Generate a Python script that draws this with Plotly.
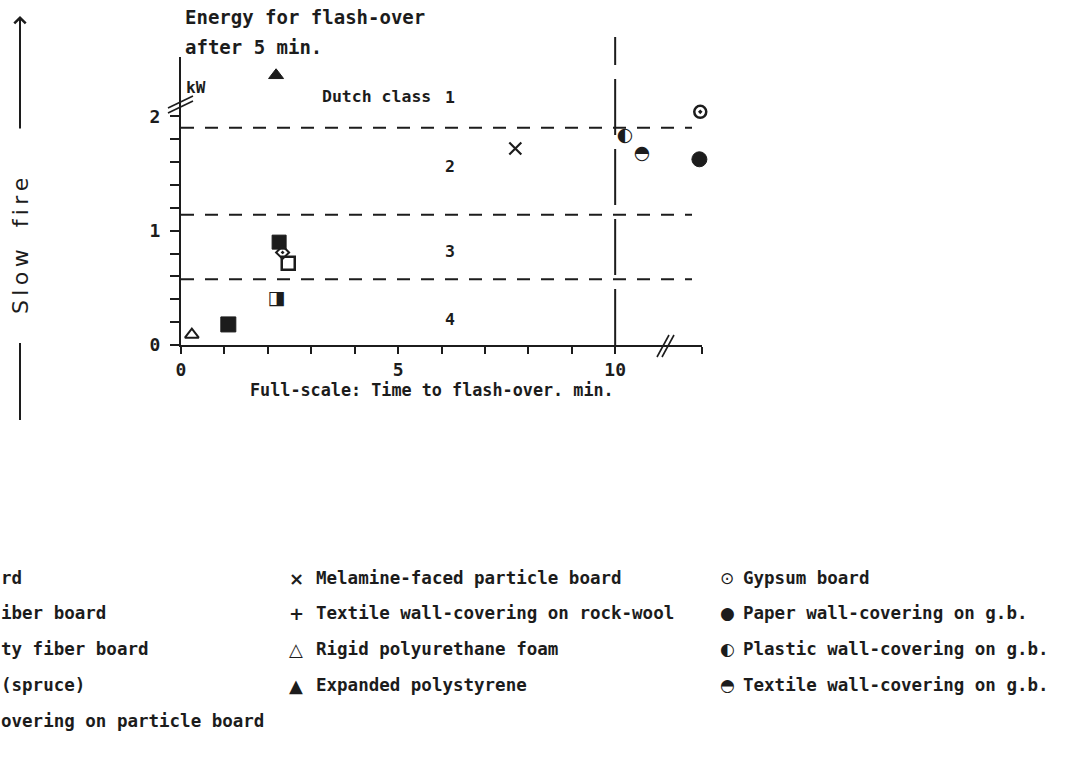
import plotly.graph_objects as go

# ---------------- data ----------------
X_RANGE = [0, 12]
Y_RANGE = [0, 2.52]
x_tick_vals = [0, 5, 10]
x_tick_labels = ["0", "5", "10"]
x_minor_ticks = [1, 2, 3, 4, 6, 7, 8, 9, 12]
y_tick_vals = [0, 1, 2]
y_tick_labels = ["0", "1", "2"]
y_minor_ticks = [0.2, 0.4, 0.6, 0.8, 1.2, 1.4, 1.6, 1.8]

class_limits = [1.90, 1.14, 0.575]
class_names = ["1", "2", "3", "4"]
class_name_y = [2.17, 1.56, 0.82, 0.22]
class_name_x = 6.2
time_divider = 10

# first legend column (partly cut off at the page edge)
col1_names = ["rd", "iber board", "ty fiber board", "(spruce)",
              "overing on particle board"]
col1_x = [1.09, 2.20, 2.26, 2.34, 2.47]
col1_y = [0.18, 0.40, 0.90, 0.81, 0.715]

col2_names = ["Melamine-faced particle board", "Textile wall-covering on rock-wool",
              "Rigid polyurethane foam", "Expanded polystyrene"]
melamine_x, melamine_y = [7.70], [1.72]
rockwool_x, rockwool_y = [], []
pu_x, pu_y = [0.25], [0.09]
eps_x, eps_y = [2.19], [2.36]

col3_names = ["Gypsum board", "Paper wall-covering on g.b.",
              "Plastic wall-covering on g.b.", "Textile wall-covering on g.b."]
gypsum_x, gypsum_y = [11.96], [2.04]
paper_x, paper_y = [11.94], [1.625]
plastic_x, plastic_y = [10.23], [1.83]
textile_x, textile_y = [10.62], [1.67]

# ---------------- layout helpers ----------------
W, H = 1066, 765
L, R, T, B = 181, 702, 57, 345   # plot area in pixels
def px(x):
    return (x - L) / (R - L)
def py(y):
    return (B - y) / (B - T)

INK = "#1c1c1c"
MONO = "DejaVu Sans Mono"

fig = go.Figure()

def mk(x, y, symbol, size, lw=2, name=""):
    fig.add_trace(go.Scatter(
        x=x, y=y, mode="markers", name=name, cliponaxis=False, showlegend=False,
        marker=dict(symbol=symbol, size=size, color=INK,
                    line=dict(color=INK, width=lw))))

def glyph(x, y, ch, size, name=""):
    fig.add_trace(go.Scatter(
        x=x, y=y, mode="text", text=[ch] * len(x), name=name, cliponaxis=False,
        showlegend=False, textposition="middle center",
        textfont=dict(family="DejaVu Sans", size=size, color=INK)))

# column 1 materials
mk([col1_x[0]], [col1_y[0]], "square", 15, 1, col1_names[0])
glyph([col1_x[1]], [col1_y[1]], "◨", 19, col1_names[1])
mk([col1_x[2]], [col1_y[2]], "square", 14, 1, col1_names[2])
mk([col1_x[3]], [col1_y[3]], "diamond-open-dot", 10, 2, col1_names[3])
mk([col1_x[4]], [col1_y[4]], "square-open", 13, 2.5, col1_names[4])
# column 2
mk(melamine_x, melamine_y, "x-thin-open", 12, 2.2, col2_names[0])
mk(rockwool_x, rockwool_y, "cross-thin-open", 12, 2.2, col2_names[1])
mk(pu_x, pu_y, "triangle-up-open", 12, 2, col2_names[2])
mk(eps_x, eps_y, "triangle-up", 13, 1, col2_names[3])
# column 3
mk(gypsum_x, gypsum_y, "circle-open-dot", 12, 2.5, col3_names[0])
mk(paper_x, paper_y, "circle", 15, 1, col3_names[1])
glyph(plastic_x, plastic_y, "◐", 19, col3_names[2])
glyph(textile_x, textile_y, "◓", 19, col3_names[3])

shapes = []
# class limits (dashed)
for v in class_limits:
    shapes.append(dict(type="line", xref="paper", yref="y", x0=0, x1=px(692), y0=v, y1=v,
                       line=dict(color=INK, width=2, dash="13px,11px")))
# vertical divider at 10 min
xd = (time_divider - X_RANGE[0]) / (X_RANGE[1] - X_RANGE[0])
shapes.append(dict(type="line", xref="paper", yref="paper", x0=xd, x1=xd, y0=0, y1=py(37),
                   line=dict(color=INK, width=2, dash="56px,14px")))
# axis breaks
for dx in (0, 5):
    shapes.append(dict(type="line", xref="paper", yref="paper",
                       x0=px(657 + dx), y0=py(357), x1=px(669 + dx), y1=py(335),
                       line=dict(color=INK, width=1.6)))
for dy in (0, 5):
    shapes.append(dict(type="line", xref="paper", yref="paper",
                       x0=px(168), y0=py(108 + dy), x1=px(193), y1=py(96 + dy),
                       line=dict(color=INK, width=1.6)))
# left "slow fire" arrow lines
shapes.append(dict(type="line", xref="paper", yref="paper", x0=px(20), x1=px(20),
                   y0=py(343), y1=py(420), line=dict(color=INK, width=2)))

ann = []
def text(xp, yp, s, size=18, anchor="left", family=MONO, bold=True, **kw):
    ann.append(dict(xref="paper", yref="paper", x=px(xp), y=py(yp), text=("<b>%s</b>" % s) if bold else s,
                    showarrow=False, xanchor=anchor, yanchor="middle",
                    font=dict(family=family, size=size, color=INK), **kw))

text(183, 17, "Energy for flash-over", 19)
text(183, 47, "after 5 min.", 19)
text(184, 88, "kW", 16)
text(320, 97, "Dutch class", 16.5)
for name, yv in zip(class_names, class_name_y):
    ann.append(dict(xref="x", yref="y", x=class_name_x, y=yv, text="<b>%s</b>" % name,
                    showarrow=False, xanchor="center", yanchor="middle",
                    font=dict(family=MONO, size=16.5, color=INK)))
text(432, 390, "Full-scale: Time to flash-over. min.", 16.8, anchor="center")

# slow fire
text(20, 246, "S\u2009l\u2009o\u2009w\u2003f\u2009i\u2009r\u2009e", 22, anchor="center",
     family="DejaVu Sans", bold=False, textangle=-90)
ann.append(dict(xref="paper", yref="paper", x=px(20), y=py(16), ax=0, ay=114,
                showarrow=True, arrowhead=4, arrowsize=1.1, arrowwidth=2,
                arrowcolor=INK, text=""))

# legend
rows = [578, 613, 649, 685, 721]
for i, s in enumerate(col1_names):
    text(-1, rows[i], s, 17.5)
col2_glyph = ["×", "+", "△", "▲"]
for i, s in enumerate(col2_names):
    text(296, rows[i], col2_glyph[i], 18, anchor="center", family="DejaVu Sans")
    text(314, rows[i], s, 17.5)
col3_glyph = ["⊙", "●", "◐", "◓"]
for i, s in enumerate(col3_names):
    text(727, rows[i], col3_glyph[i], 17, anchor="center", family="DejaVu Sans", bold=False)
    text(741, rows[i], s, 17.5)

fig.update_layout(
    width=W, height=H, margin=dict(l=L, r=W - R, t=T, b=H - B),
    paper_bgcolor="white", plot_bgcolor="white",
    shapes=shapes, annotations=ann, showlegend=False,
    xaxis=dict(range=X_RANGE, showgrid=False, zeroline=False, showline=True,
               linecolor=INK, linewidth=2, ticks="outside", ticklen=7, tickwidth=2,
               tickcolor=INK, tickvals=x_tick_vals, ticktext=x_tick_labels,
               tickfont=dict(family=MONO, size=18, color=INK, weight="bold"),
               minor=dict(tickvals=x_minor_ticks, ticks="outside", ticklen=7,
                          tickwidth=2, tickcolor=INK)),
    yaxis=dict(range=Y_RANGE, showgrid=False, zeroline=False, showline=True,
               linecolor=INK, linewidth=2, ticks="outside", ticklen=9, tickwidth=2,
               tickcolor=INK, tickvals=y_tick_vals, ticktext=y_tick_labels,
               tickfont=dict(family=MONO, size=18, color=INK, weight="bold"),
               ticklabelstandoff=6,
               minor=dict(tickvals=y_minor_ticks, ticks="outside", ticklen=9,
                          tickwidth=2, tickcolor=INK)),
)

fig.write_html("out.html")
